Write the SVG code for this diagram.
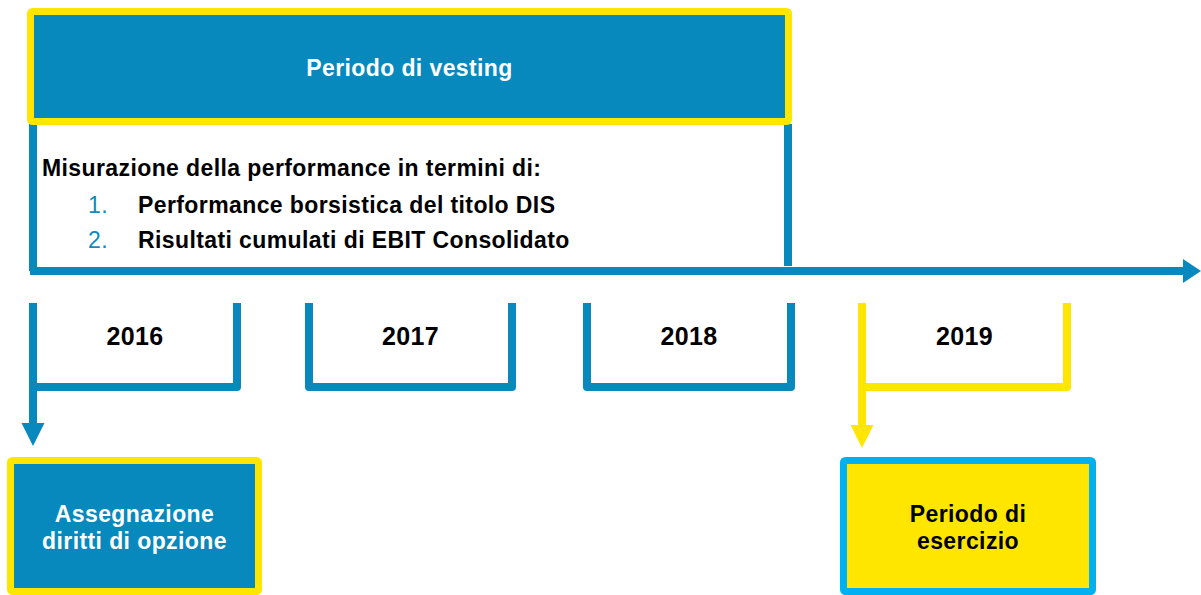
<svg xmlns="http://www.w3.org/2000/svg" width="1201" height="595" viewBox="0 0 1201 595">
<defs>
<style>
.t{font-family:"Liberation Sans",Arial,sans-serif;font-weight:bold;font-size:23px;letter-spacing:0.4px}
.c{text-anchor:middle}
.w{fill:#ffffff}
.k{fill:#000000}
.yr{font-size:25px;letter-spacing:0.3px}
.num{font-weight:normal;fill:#0A8BBF}
.bl{fill:none;stroke:#0789BE;stroke-width:8}
.yl{fill:none;stroke:#FFE600;stroke-width:8}
</style>
<marker id="ab" markerUnits="userSpaceOnUse" markerWidth="24" markerHeight="24" refX="2" refY="12" orient="auto" viewBox="0 0 24 24">
<path d="M0,0 L18,12 L0,24 z" fill="#0789BE"/>
</marker>
<marker id="ad" markerUnits="userSpaceOnUse" markerWidth="24" markerHeight="24" refX="2" refY="11.5" orient="auto" viewBox="0 0 24 23">
<path d="M0,0 L23,11.5 L0,23 z" fill="#0789BE"/>
</marker>
<marker id="ay" markerUnits="userSpaceOnUse" markerWidth="24" markerHeight="24" refX="2" refY="11.5" orient="auto" viewBox="0 0 24 23">
<path d="M0,0 L23,11.5 L0,23 z" fill="#FFE600"/>
</marker>
</defs>
<rect width="1201" height="595" fill="#ffffff"/>

<g id="connectors">
<path class="bl" d="M33,124 V271" stroke-width="7"/>
<path class="bl" d="M788,124 V266"/>
<path class="bl" d="M30,271 H1185" marker-end="url(#ab)"/>
<path class="bl" d="M33,386 V425" marker-end="url(#ad)"/>
<path class="yl" d="M862,386 V427" marker-end="url(#ay)"/>
</g>

<g id="vesting">
<rect x="30.5" y="11.5" width="758" height="110" rx="2" fill="#0789BE" stroke="#FFE600" stroke-width="7"/>
<text class="t c w" x="409.5" y="76">Periodo di vesting</text>
</g>

<g id="performance">
<text class="t k" x="42" y="176">Misurazione della performance in termini di:</text>
<text class="t num" x="88" y="213">1.</text>
<text class="t k" x="138" y="213">Performance borsistica del titolo DIS</text>
<text class="t num" x="88" y="248">2.</text>
<text class="t k" x="138" y="248">Risultati cumulati di EBIT Consolidato</text>
</g>

<g id="y2016">
<path class="bl" d="M33,303 V387 H237 V303" stroke-linejoin="round"/>
<text class="t yr c k" x="135" y="345">2016</text>
</g>
<g id="y2017">
<path class="bl" d="M309,303 V387 H512 V303" stroke-linejoin="round"/>
<text class="t yr c k" x="410.5" y="345">2017</text>
</g>
<g id="y2018">
<path class="bl" d="M587,303 V387 H791 V303" stroke-linejoin="round"/>
<text class="t yr c k" x="689" y="345">2018</text>
</g>
<g id="y2019">
<path class="yl" d="M862,303 V387 H1067 V303" stroke-linejoin="round"/>
<text class="t yr c k" x="964.5" y="345">2019</text>
</g>

<g id="assegnazione">
<rect x="10.5" y="460.5" width="248" height="131" rx="2" fill="#0789BE" stroke="#FFE600" stroke-width="7"/>
<text class="t c w" x="134.5" y="522">Assegnazione</text>
<text class="t c w" x="134.5" y="549">diritti di opzione</text>
</g>

<g id="esercizio">
<rect x="843.5" y="460.5" width="249" height="131" rx="2" fill="#FFE600" stroke="#00B0F0" stroke-width="7"/>
<text class="t c k" x="968" y="522">Periodo di</text>
<text class="t c k" x="968" y="549">esercizio</text>
</g>
</svg>
